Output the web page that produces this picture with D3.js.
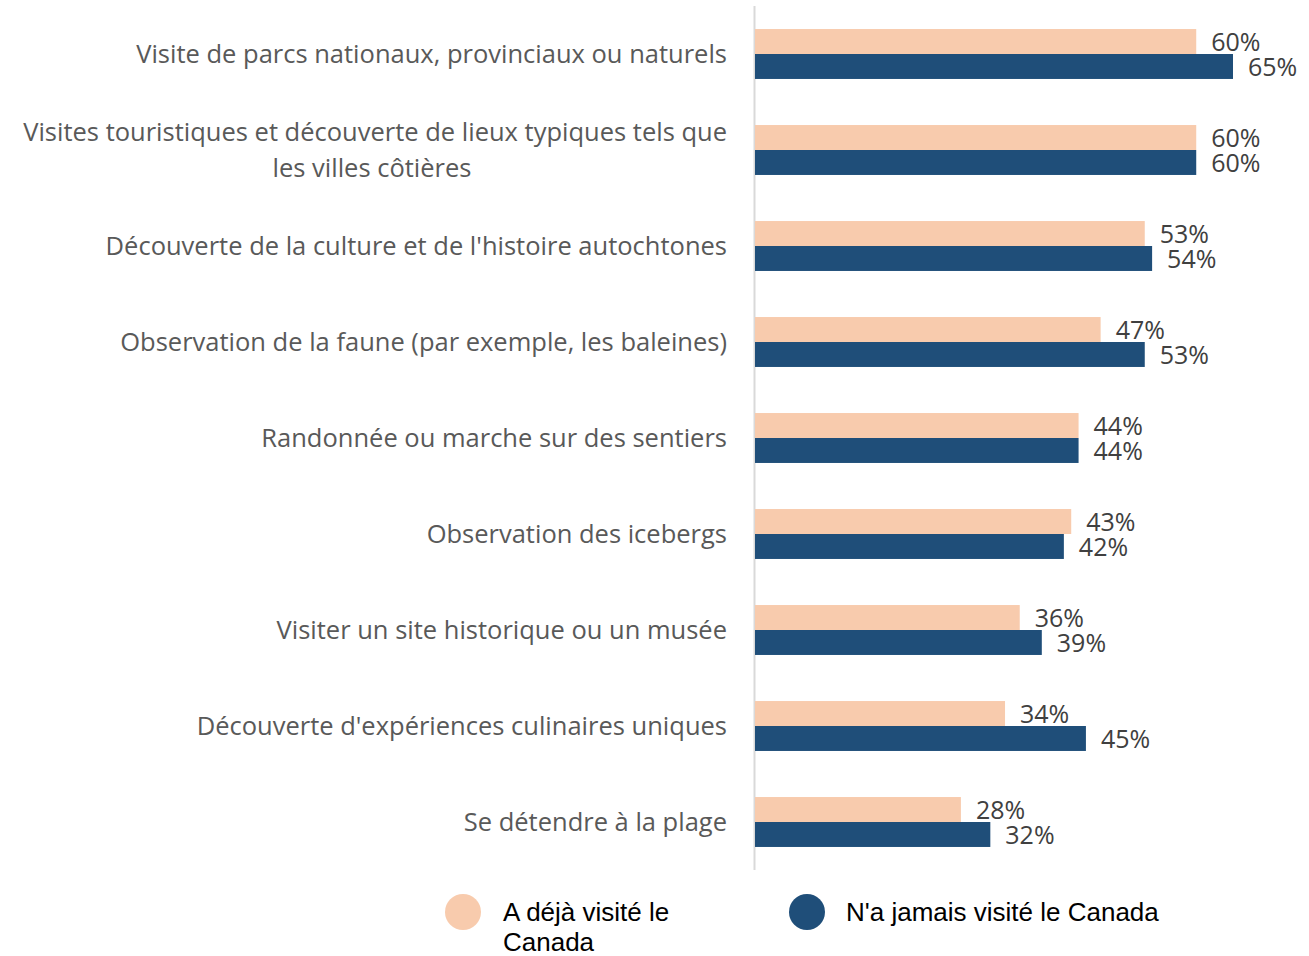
<!DOCTYPE html>
<html>
<head>
<meta charset="utf-8">
<script src="https://cdn.jsdelivr.net/npm/d3@7"></script>
<style>
  body { margin: 0; background: #fff; }
</style>
</head>
<body>
<script>
var width = 1309,
    height = 956;

var categories = [
  ['Visite de parcs nationaux, provinciaux ou naturels'],
  ['Visites touristiques et découverte de lieux typiques tels que', 'les villes côtières'],
  ["Découverte de la culture et de l'histoire autochtones"],
  ['Observation de la faune (par exemple, les baleines)'],
  ['Randonnée ou marche sur des sentiers'],
  ['Observation des icebergs'],
  ['Visiter un site historique ou un musée'],
  ["Découverte d'expériences culinaires uniques"],
  ['Se détendre à la plage']
];
var visited = [60, 60, 53, 47, 44, 43, 36, 34, 28];
var neverVisited = [65, 60, 54, 53, 44, 42, 39, 45, 32];
var seriesNames = ['A déjà visité le Canada', "N'a jamais visité le Canada"];
var colours = ['#F8CBAD', '#1F4E79'];

var svg = d3.select('body').append('svg')
    .attr('width', width)
    .attr('height', height);

var x = d3.scaleLinear().domain([0, 65]).range([755, 1233]);
var y = d3.scaleBand().domain(d3.range(categories.length)).range([6, 870]).paddingInner(0.48).paddingOuter(0.24);

// axis line
svg.append('line')
    .attr('x1', 754.5).attr('x2', 754.5)
    .attr('y1', 6).attr('y2', 870)
    .attr('stroke', '#d9d9d9').attr('stroke-width', 2);

var half = y.bandwidth() / 2;

var groups = svg.selectAll('g.cat').data(categories).enter().append('g').attr('class', 'cat');

[visited, neverVisited].forEach(function(vals, s) {
  svg.selectAll('rect.s' + s).data(vals).enter().append('rect')
      .attr('class', 's' + s)
      .attr('x', x(0))
      .attr('y', function(d, i) { return y(i) + s * half; })
      .attr('width', function(d) { return x(d) - x(0); })
      .attr('height', half)
      .attr('fill', colours[s]);

  svg.selectAll('text.v' + s).data(vals).enter().append('text')
      .attr('class', 'v' + s)
      .attr('x', function(d) { return x(d) + 15; })
      .attr('y', function(d, i) { return y(i) + s * half + half / 2 + 1; })
      .attr('dy', '0.35em')
      .attr('font-family', 'Open Sans, sans-serif')
      .attr('font-size', 25)
      .attr('fill', '#404040')
      .text(function(d) { return d + '%'; });
});

// category labels
groups.each(function(lines, i) {
  var cy = y(i) + half;
  var t = d3.select(this).append('text')
      .attr('font-family', 'Open Sans, sans-serif')
      .attr('font-size', 25.5)
      .attr('fill', '#595959');
  if (lines.length === 1) {
    t.append('tspan').attr('x', 727).attr('y', cy).attr('dy', '0.35em')
        .attr('text-anchor', 'end').text(lines[0]);
  } else {
    t.append('tspan').attr('x', 727).attr('y', cy - 18).attr('dy', '0.35em')
        .attr('text-anchor', 'end').text(lines[0]);
    t.append('tspan').attr('x', 372).attr('y', cy + 18).attr('dy', '0.35em')
        .attr('text-anchor', 'middle').text(lines[1]);
  }
});

// legend
var legend = svg.append('g');
legend.append('circle').attr('cx', 463).attr('cy', 912).attr('r', 18).attr('fill', colours[0]);
var lt = legend.append('text')
    .attr('font-family', 'Liberation Sans, Arial, sans-serif')
    .attr('font-size', 26).attr('fill', '#000');
lt.append('tspan').attr('x', 503).attr('y', 921).text('A déjà visité le');
lt.append('tspan').attr('x', 503).attr('y', 951).text('Canada');

legend.append('circle').attr('cx', 807).attr('cy', 912).attr('r', 18).attr('fill', colours[1]);
legend.append('text').attr('x', 846).attr('y', 921)
    .attr('font-family', 'Liberation Sans, Arial, sans-serif')
    .attr('font-size', 26).attr('fill', '#000')
    .text(seriesNames[1]);
</script>
</body>
</html>
